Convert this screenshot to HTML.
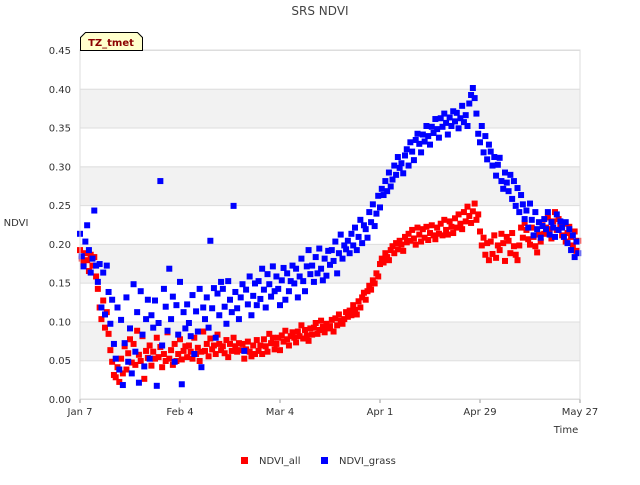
<!DOCTYPE html>
<html><head><meta charset="utf-8"><style>
body{margin:0;background:#fff;font-family:"Liberation Sans","DejaVu Sans",sans-serif}
svg text{font-family:"DejaVu Sans","Liberation Sans",sans-serif}
</style></head><body>
<svg id="chart" width="640" height="480" viewBox="0 0 640 480" xmlns="http://www.w3.org/2000/svg">
<text x="320" y="15" text-anchor="middle" font-size="12" fill="#444">SRS NDVI</text>
<g id="grid"></g>
<g id="yticks"></g>
<g id="xticks"></g>
<g id="marks"></g>
<rect x="80" y="50" width="500" height="349" fill="none" stroke="#ddd"/>
<text x="16" y="226" font-size="10" fill="#333" text-anchor="middle">NDVI</text>
<text x="566" y="433" font-size="10" fill="#333" text-anchor="middle">Time</text>
<g>
<path d="M80.5,50.5 V37.5 L85.5,32.5 H137.5 L142.5,37.5 V50.5 Z" fill="#ffffcc" stroke="#000"/>
<text x="111" y="46" font-size="10" font-weight="bold" fill="#8b0000" text-anchor="middle">TZ_tmet</text>
</g>
<g>
<g><rect x="241" y="457" width="7" height="7" fill="#f00"/><text x="259" y="464" font-size="10" fill="#333">NDVI_all</text></g>
<g><rect x="321" y="457" width="7" height="7" fill="#00f"/><text x="339" y="464" font-size="10" fill="#333">NDVI_grass</text></g>
</g>
</svg>
<script>
const yTicks=[0,0.05,0.10,0.15,0.20,0.25,0.30,0.35,0.40,0.45];
const xTickDays=[0,28,56,84,112,140];
const xTickLabels=["Jan 7","Feb 4","Mar 4","Apr 1","Apr 29","May 27"];
const dayStep=0.5;
const ndviAll=[.192,.181,.174,.188,.179,.165,.186,.172,.183,.158,
.142,.118,.103,.127,.092,.112,.084,.063,.048,.031,
.028,.041,.022,.052,.033,.068,.038,.059,.077,.047,
.071,.044,.088,.057,.049,.081,.026,.062,.053,.069,
.043,.061,.052,.079,.054,.067,.041,.058,.049,.086,
.052,.063,.044,.071,.049,.058,.077,.051,.062,.068,
.054,.069,.061,.052,.079,.058,.066,.049,.061,.087,
.062,.071,.055,.078,.064,.069,.058,.083,.071,.063,
.068,.059,.076,.054,.071,.062,.079,.068,.061,.072,
.063,.071,.052,.064,.074,.061,.055,.069,.058,.076,
.062,.069,.058,.077,.068,.061,.084,.072,.079,.064,
.071,.079,.063,.082,.074,.088,.077,.069,.081,.086,
.079,.073,.087,.081,.095,.078,.089,.082,.075,.091,
.083,.092,.098,.084,.089,.101,.093,.086,.097,.091,
.094,.102,.087,.104,.095,.109,.101,.097,.103,.112,
.106,.114,.108,.121,.115,.109,.126,.118,.131,.137,
.128,.139,.146,.141,.153,.149,.162,.158,.174,.181,
.176,.188,.183,.179,.192,.197,.188,.201,.193,.204,
.199,.191,.209,.202,.213,.204,.218,.207,.199,.221,
.212,.203,.219,.208,.222,.205,.214,.224,.211,.206,
.221,.213,.226,.211,.231,.218,.212,.229,.222,.214,
.233,.221,.238,.226,.219,.241,.229,.248,.236,.227,
.242,.252,.231,.238,.216,.198,.208,.186,.201,.179,
.203,.187,.211,.182,.198,.192,.213,.201,.178,.209,
.204,.188,.214,.197,.186,.179,.198,.221,.208,.227,
.218,.206,.199,.221,.209,.197,.189,.212,.203,.224,
.213,.221,.234,.219,.207,.229,.241,.218,.232,.223,
.211,.226,.203,.214,.222,.209,.198,.216,.191,.204];
const ndviGrass=[.213,.184,.171,.203,.224,.192,.163,.181,.243,.172,
.151,.174,.118,.163,.109,.172,.138,.097,.128,.071,
.052,.118,.038,.102,.018,.072,.131,.048,.091,.033,
.148,.061,.112,.021,.139,.083,.042,.103,.128,.052,
.108,.092,.127,.017,.098,.281,.069,.142,.119,.088,
.168,.103,.132,.048,.121,.083,.151,.019,.112,.091,
.122,.098,.081,.134,.058,.113,.087,.142,.041,.118,
.103,.131,.092,.204,.117,.143,.079,.136,.108,.151,
.142,.119,.097,.152,.128,.112,.249,.138,.117,.103,
.131,.148,.062,.141,.122,.158,.108,.133,.149,.121,
.152,.129,.168,.141,.118,.161,.148,.132,.171,.139,
.158,.142,.121,.153,.169,.128,.162,.139,.152,.172,
.149,.168,.131,.158,.181,.152,.139,.171,.192,.161,
.172,.151,.183,.162,.194,.168,.153,.181,.159,.191,
.173,.192,.178,.203,.162,.188,.212,.181,.198,.193,
.204,.188,.213,.198,.221,.192,.209,.231,.201,.224,
.219,.208,.241,.228,.251,.223,.239,.262,.247,.271,
.263,.281,.268,.292,.274,.283,.301,.289,.312,.298,
.304,.291,.314,.322,.301,.331,.319,.308,.334,.342,
.329,.318,.341,.332,.352,.339,.328,.351,.343,.361,
.348,.337,.362,.351,.368,.356,.341,.363,.352,.371,
.358,.369,.349,.362,.378,.357,.366,.352,.381,.392,
.401,.388,.368,.342,.331,.352,.318,.339,.309,.328,
.319,.301,.312,.288,.302,.311,.281,.271,.292,.279,
.268,.289,.258,.281,.249,.272,.241,.263,.251,.232,
.243,.221,.252,.231,.211,.241,.219,.228,.208,.223,
.232,.219,.241,.212,.228,.221,.209,.238,.218,.229,
.221,.209,.228,.201,.219,.192,.211,.183,.203,.188];
const NS="http://www.w3.org/2000/svg";
const X0=80,X1=580,Y0=399,Y1=50,DMAX=140,VMAX=0.45;
function xs(d){return X0+d*(X1-X0)/DMAX;}
function ys(v){return Y0-v*(Y0-Y1)/VMAX;}
function mk(tag,attrs,parent){const e=document.createElementNS(NS,tag);for(const k in attrs)e.setAttribute(k,attrs[k]);parent.appendChild(e);return e;}
const grid=document.getElementById('grid'),yt=document.getElementById('yticks'),xt=document.getElementById('xticks'),marks=document.getElementById('marks');
for(let i=0;i<yTicks.length-1;i++){
  if(i%2===1){const b=mk('rect',{x:X0,y:ys(yTicks[i+1]),width:X1-X0,height:ys(yTicks[i])-ys(yTicks[i+1]),fill:'#f2f2f2'},grid);
  
  }
}
yTicks.forEach(v=>{
  const l=mk('line',{x1:X0,x2:X1,y1:ys(v)+0.5,y2:ys(v)+0.5,stroke:'#ddd'},grid);
  
  
  const t=mk('text',{x:71,y:ys(v)+4,'font-size':10,fill:'#333','text-anchor':'end'},yt);
  t.textContent=v.toFixed(2);
  
  
});
xTickDays.forEach((d,i)=>{
  const l=mk('line',{x1:xs(d),x2:xs(d),y1:Y0,y2:Y0+4,stroke:'#999'},xt);
  
  
  const t=mk('text',{x:xs(d),y:415,'font-size':10,fill:'#333','text-anchor':'middle'},xt);
  t.textContent=xTickLabels[i];
  
  
});
function drawSeries(vals,color,name){
  vals.forEach((v,i)=>{
    const r=mk('rect',{x:xs(i*dayStep)-3,y:ys(v)-3,width:6,height:6,fill:color},marks);
    
    
  });
}
drawSeries(ndviAll,'#f00','ndvi-all-point');
drawSeries(ndviGrass,'#00f','ndvi-grass-point');
</script>
</body></html>
